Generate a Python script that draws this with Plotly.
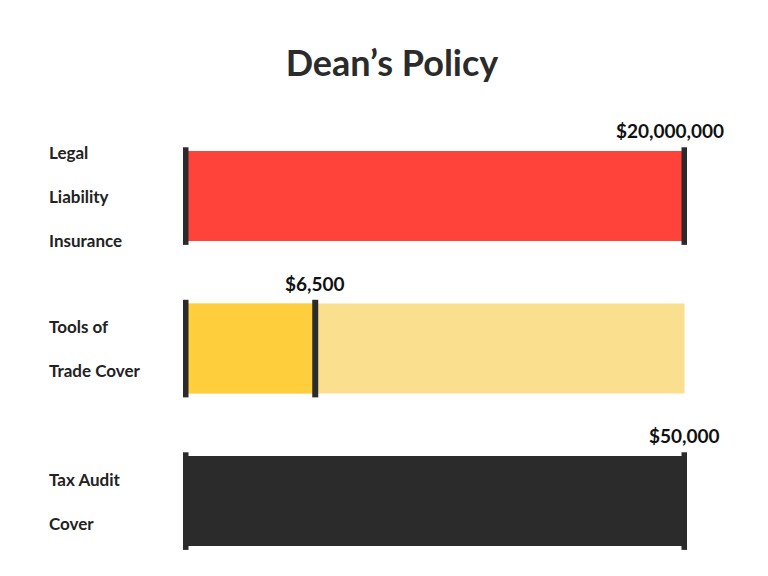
import plotly.graph_objects as go

categories = ["Legal<br>Liability<br>Insurance", "Tools of<br>Trade Cover", "Tax Audit<br>Cover"]
values = [20000000, 6500, 50000]
limits = [20000000, 25000, 50000]
value_labels = ["$20,000,000", "$6,500", "$50,000"]
fill_colors = ["#FF433A", "#FFCE3D", "#2B2B2B"]
back_colors = ["#FF433A", "#FAE08E", "#2B2B2B"]

pos = list(range(len(categories)))
frac = [v / l for v, l in zip(values, limits)]

fig = go.Figure()
# background (limit) bars
fig.add_trace(go.Bar(x=[1] * len(pos), y=pos, orientation="h", width=0.59,
                     marker=dict(color=back_colors, line_width=0), hoverinfo="skip"))
# filled portion
fig.add_trace(go.Bar(x=frac, y=pos, orientation="h", width=0.59,
                     marker=dict(color=fill_colors, line_width=0)))

for i, f in enumerate(frac):
    for xx in (0, f):
        fig.add_shape(type="line", x0=xx, x1=xx, y0=i - 0.32, y1=i + 0.32,
                      line=dict(color="#2B2B2B", width=6), layer="above")
    fig.add_annotation(x=f, y=i - 0.34, text="<b>" + value_labels[i] + "</b>",
                       showarrow=False, yanchor="bottom", xanchor="center",
                       xshift=-15 if i == 0 else 0,
                       font=dict(size=19, color="#111111"))
    fig.add_annotation(xref="paper", x=-0.27, y=i,
                       text="<b>" + categories[i].replace("<br>", "<br><span style='font-size:8px'> </span><br>") + "</b>",
                       showarrow=False, xanchor="left", align="left",
                       font=dict(size=17, color="#222222"))

fig.update_layout(
    width=768, height=576, barmode="overlay", showlegend=False,
    plot_bgcolor="white", paper_bgcolor="white",
    font=dict(family="Lato, Inter, sans-serif"),
    title=dict(text="<b>Dean’s Policy</b>", x=0.5, xanchor="center", y=0.925,
               font=dict(size=36, color="#2B2B2B")),
    margin=dict(l=175, r=89, t=92, b=28),
    xaxis=dict(visible=False, range=[-0.005, 1.005]),
    yaxis=dict(visible=False, range=[2.36, -0.63]),
)

fig.write_html("out.html")
